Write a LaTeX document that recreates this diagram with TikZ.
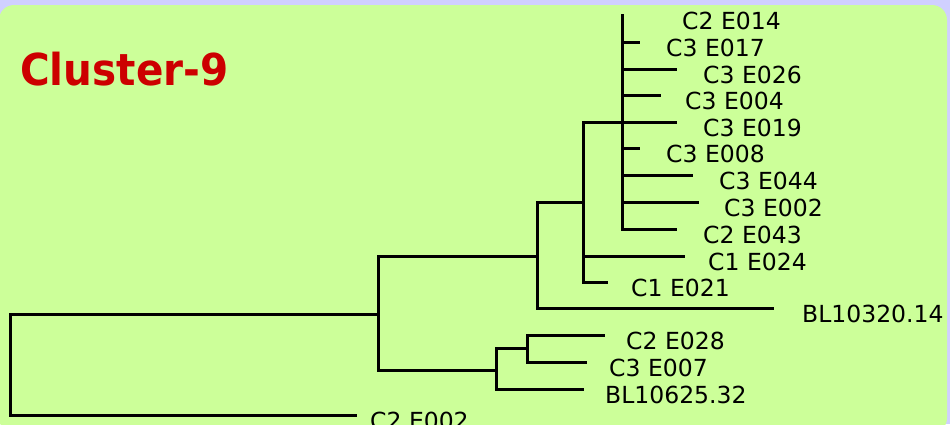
\documentclass[tikz,border=0pt]{standalone}
\usepackage{fontspec}
\setmainfont{DejaVu Sans}
\usepackage{xcolor}
\usetikzlibrary{positioning}

\definecolor{lavender}{RGB}{208,208,255}
\definecolor{leafgreen}{RGB}{204,255,153}
\definecolor{titlered}{RGB}{204,0,0}

\begin{document}
\begin{tikzpicture}[
    x=1pt, y=-1pt,
    branch/.style={line width=3pt, line cap=rect},
    leaf/.style={font=\fontsize{23.5}{26}\selectfont, inner sep=0pt, yshift=-5.5pt},
    every node/.style={text=black}
]
    % Background panel
    \useasboundingbox (0,0) rectangle (950,424);
    \fill[lavender] (0,0) rectangle (950,424);
    \fill[leafgreen, rounded corners=15pt] (-1,5) rectangle (947,433);

    % Title
    \node[anchor=base west, inner sep=0pt, text=titlered] (title) at (20,85)
        {\scalebox{0.92}[1]{\fontsize{44}{48}\selectfont\bfseries Cluster-9}};

    % Internal nodes
    \coordinate (r) at (10,314);
    \coordinate (a) at (378,314);
    \coordinate (b) at (537,256);
    \coordinate (c) at (583,202);
    \coordinate (d) at (622,122);
    \coordinate (g) at (496,370);
    \coordinate (h) at (527,348);

    % Leaf tips
    \coordinate (t014) at (622,15);
    \coordinate (t017) at (638,42);
    \coordinate (t026) at (675,69);
    \coordinate (t004) at (659,95);
    \coordinate (t019) at (675,122);
    \coordinate (t008) at (638,148);
    \coordinate (t044) at (691,175);
    \coordinate (t002c) at (697,202);
    \coordinate (t043) at (675,229);
    \coordinate (t024) at (683,256);
    \coordinate (t021) at (606,282);
    \coordinate (tbl1) at (772,308);
    \coordinate (t028) at (603,335);
    \coordinate (t007) at (585,362);
    \coordinate (tbl2) at (582,389);
    \coordinate (t002) at (355,415);

    % Leaf labels
    \node[leaf, right=60pt of t014] (l014) {C2 E014};
    \node[leaf, right=28pt of t017] (l017) {C3 E017};
    \node[leaf, right=28pt of t026] (l026) {C3 E026};
    \node[leaf, right=26pt of t004] (l004) {C3 E004};
    \node[leaf, right=28pt of t019] (l019) {C3 E019};
    \node[leaf, right=28pt of t008] (l008) {C3 E008};
    \node[leaf, right=28pt of t044] (l044) {C3 E044};
    \node[leaf, right=27pt of t002c] (l002c) {C3 E002};
    \node[leaf, right=28pt of t043] (l043) {C2 E043};
    \node[leaf, right=25pt of t024] (l024) {C1 E024};
    \node[leaf, right=25pt of t021] (l021) {C1 E021};
    \node[leaf, right=30pt of tbl1] (lbl1) {BL10320.14};
    \node[leaf, right=23pt of t028] (l028) {C2 E028};
    \node[leaf, right=24pt of t007] (l007) {C3 E007};
    \node[leaf, right=23pt of tbl2] (lbl2) {BL10625.32};
    \node[leaf, right=15pt of t002] (l002) {C2 E002};

    % Branches
    \draw[branch] (r) |- (a);
    \draw[branch] (r) |- (t002);
    \draw[branch] (a) |- (b);
    \draw[branch] (a) |- (g);
    \draw[branch] (b) |- (c);
    \draw[branch] (b) |- (tbl1);
    \draw[branch] (c) |- (d);
    \draw[branch] (c) |- (t024);
    \draw[branch] (c) |- (t021);
    \foreach \t in {t014,t017,t026,t004,t019,t008,t044,t002c,t043}
        \draw[branch] (d) |- (\t);
    \draw[branch] (g) |- (h);
    \draw[branch] (g) |- (tbl2);
    \draw[branch] (h) |- (t028);
    \draw[branch] (h) |- (t007);
\end{tikzpicture}
\end{document}
